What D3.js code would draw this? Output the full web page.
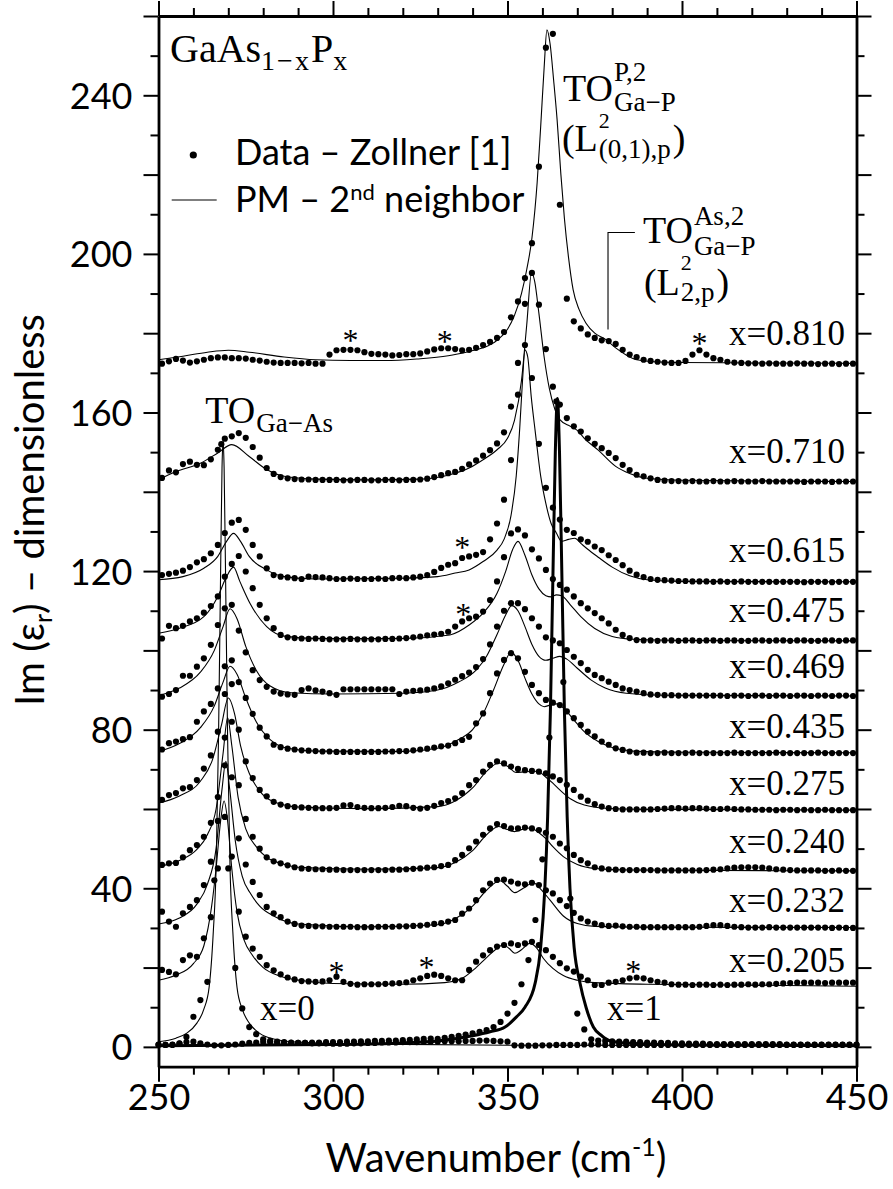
<!DOCTYPE html>
<html lang="en">
<head>
<meta charset="UTF-8">
<title>GaAsP Im(eps) spectra</title>
<style>
  body{ margin:0; background:#fff; }
  .axis path, .axis line{ stroke:#000; fill:none; }
  .axis path{ stroke-width:2.8; }
  .axis line{ stroke-width:2; }
  .axis text{ font:36px Lato, sans-serif; fill:#000; }
  .model{ fill:none; stroke:#000; stroke-width:1.1; }
  .model.thick{ stroke-width:3; }
  .dot{ fill:#000; }
  .serif{ font-family:"Liberation Serif", serif; fill:#000; }
  .title{ font:40px Lato, sans-serif; fill:#000; }
  .legend text{ font:36px Lato, sans-serif; fill:#000; }
</style>
</head>
<body>
<svg class="chart" width="893" height="1189"></svg>
<script src="https://cdn.jsdelivr.net/npm/d3@7"></script>
<script>
// wavenumber grids of the measured points (cm-1)
var oddWn = d3.range(251, 450, 2);    // alloys
var evenWn = d3.range(250, 451, 2);   // GaAs and GaP

// measured Im(eps) (already offset as plotted), one array per composition
var d810 = [172.3,172.9,173.5,173.1,172.6,172.9,173.3,173.7,173.9,173.9,
  173.7,173.7,173.6,173.3,173.1,172.8,172.6,172.5,172.5,172.5,
  172.4,172.5,172.3,172.3,174.6,175.7,175.8,175.8,175.7,175.2,
  174.8,174.7,174.6,174.4,174.5,174.7,174.7,174.9,175.4,175.9,
  176.2,176.2,176.0,175.7,175.8,176.3,177.0,177.8,178.8,180.3,
  184.0,188.0,193.9,202.7,222.0,252.0,255.5,212.4,188.7,183.0,
  181.2,179.7,178.8,178.2,178.0,177.3,175.8,174.6,174.0,173.3,
  173.0,172.8,172.6,172.5,172.5,173.0,174.6,175.7,174.6,173.7,
  173.3,172.8,172.6,172.5,172.4,172.4,172.3,172.4,172.3,172.3,
  172.3,172.4,172.3,172.3,172.2,172.3,172.3,172.2,172.3,172.3];
var d710 = [143.5,145.4,144.9,147.0,147.6,146.8,146.7,148.2,150.6,153.4,
  154.0,154.8,153.6,151.3,148.6,146.0,144.5,143.7,143.4,143.2,
  143.1,143.1,143.0,143.0,143.0,143.0,142.9,142.9,143.0,143.0,
  142.9,142.9,143.0,143.0,142.9,143.0,143.0,143.1,143.3,143.7,
  144.2,144.7,145.0,145.8,146.9,147.9,149.1,150.5,152.2,155.0,
  161.5,172.5,187.4,195.2,187.2,176.0,166.5,162.0,158.6,156.5,
  155.2,153.5,152.1,151.0,149.8,148.5,146.8,145.5,144.3,143.9,
  143.4,143.0,142.8,142.7,142.7,142.6,142.7,142.6,142.6,142.7,
  142.6,142.6,142.7,142.6,142.6,142.6,142.7,142.6,142.6,142.6,
  142.6,142.6,142.5,142.6,142.6,142.6,142.5,142.6,142.6,142.6];
var d615 = [119.0,119.3,119.6,120.1,121.0,122.2,123.0,124.5,126.6,129.6,
  132.2,132.9,130.4,126.6,123.7,120.7,119.0,118.6,118.4,118.2,
  118.0,118.6,118.5,118.4,118.2,118.0,118.0,118.1,118.0,118.0,
  118.0,118.1,118.0,118.2,118.3,118.2,118.4,118.6,119.0,119.8,
  120.8,121.6,122.0,123.3,123.7,124.1,124.8,128.0,132.0,138.0,
  148.0,164.5,177.0,168.7,152.1,141.0,136.0,133.0,130.4,129.6,
  128.0,127.4,126.2,125.3,124.0,122.8,121.5,120.1,119.1,118.5,
  118.0,117.8,117.7,117.6,117.5,117.5,117.4,117.4,117.4,117.3,
  117.4,117.3,117.3,117.4,117.3,117.3,117.3,117.3,117.3,117.3,
  117.3,117.3,117.2,117.3,117.3,117.3,117.2,117.3,117.3,117.3];
var d475 = [103.0,106.2,105.6,106.2,107.3,108.1,109.5,111.2,113.6,118.6,
  121.8,123.8,119.9,115.7,111.5,108.1,105.6,103.9,103.3,103.1,
  103.0,102.9,103.0,102.9,102.8,102.8,102.8,102.9,102.8,102.8,
  102.8,102.8,102.9,102.9,103.0,103.1,103.3,103.5,103.8,104.0,
  104.2,104.7,106.0,107.3,108.1,108.5,109.8,112.7,117.4,123.5,
  129.5,130.5,129.0,125.5,123.2,120.3,118.0,116.5,115.3,113.6,
  111.9,110.6,109.4,108.1,106.8,105.2,103.9,103.1,102.6,102.5,
  102.5,102.4,102.5,102.5,102.4,102.5,102.5,102.4,102.5,102.5,
  102.4,102.5,102.5,102.4,102.4,102.5,102.5,102.4,102.5,102.5,
  102.4,102.5,102.5,102.4,102.4,102.5,102.5,102.4,102.5,102.5];
var d469 = [88.3,89.0,90.0,93.6,93.6,95.9,98.0,101.4,106.4,110.6,
  111.5,105.0,99.5,95.0,92.5,90.8,89.6,89.1,88.9,88.8,
  90.0,90.4,89.9,89.6,89.2,88.8,90.2,90.2,90.2,90.2,
  90.2,90.2,90.2,90.2,89.0,89.6,89.8,89.9,90.1,90.4,
  90.9,91.7,92.6,93.5,94.4,95.8,97.8,101.5,106.0,110.0,
  111.9,111.9,110.4,108.1,106.0,103.3,102.5,101.8,100.1,98.4,
  96.8,95.1,93.8,93.0,92.1,91.3,90.4,90.0,89.6,89.2,
  88.9,88.8,88.7,88.7,88.6,88.6,88.6,88.6,88.6,88.6,
  88.6,88.5,88.6,88.6,88.5,88.6,88.6,88.5,88.6,88.6,
  88.5,88.6,88.6,88.5,88.6,88.6,88.5,88.6,88.6,88.5];
var d435 = [75.0,76.6,77.0,77.6,78.1,82.0,84.6,86.5,90.4,96.0,
  97.5,92.0,88.0,84.0,80.5,78.3,76.2,75.6,75.2,75.0,
  74.8,74.7,74.6,74.5,74.5,74.4,74.4,74.4,74.4,74.4,
  74.4,74.4,74.5,74.5,74.6,74.6,74.8,75.0,75.2,75.5,
  75.8,76.0,76.6,77.4,78.2,81.6,84.1,89.2,94.2,97.6,
  99.3,98.0,94.6,91.3,89.2,87.5,86.8,86.2,84.6,82.9,
  81.2,79.5,78.3,77.0,76.2,75.3,74.9,74.5,74.2,74.2,
  74.1,74.1,74.2,74.1,74.1,74.1,74.2,74.1,74.1,74.1,
  74.1,74.1,74.2,74.1,74.1,74.1,74.1,74.1,74.2,74.1,
  74.1,74.1,74.1,74.1,74.2,74.1,74.1,74.1,74.1,74.1];
var d275 = [62.3,63.5,64.0,65.2,65.5,67.3,70.2,73.5,79.5,89.0,
  91.5,80.0,72.0,67.8,64.8,63.2,61.8,61.1,60.7,60.5,
  60.4,60.3,60.2,60.2,60.2,60.3,60.9,61.0,60.5,60.3,
  60.2,60.2,60.3,60.5,60.8,60.7,60.3,60.1,60.3,60.8,
  61.5,62.0,62.7,64.0,66.0,67.3,69.4,71.1,72.0,71.5,
  70.7,70.1,69.8,69.6,69.4,69.0,68.2,67.3,66.1,64.8,
  63.1,62.1,61.2,60.6,60.2,60.0,59.9,59.9,59.9,59.9,
  59.9,60.0,60.1,60.2,60.2,60.1,60.2,60.2,60.1,60.0,
  60.0,60.1,60.0,59.9,59.9,59.8,59.8,59.8,59.7,59.8,
  59.8,59.7,59.8,59.7,59.7,59.8,59.7,59.7,59.7,59.7];
var d240 = [45.9,46.3,46.4,47.8,49.6,50.9,53.0,56.5,63.0,78.0,
  82.0,66.0,57.5,53.0,50.0,47.8,46.8,46.3,45.8,45.3,
  45.0,44.9,44.8,44.8,44.7,44.7,44.6,44.6,44.6,44.6,
  44.6,44.6,44.6,44.7,44.7,44.8,44.9,45.0,45.2,45.3,
  45.6,45.9,47.1,48.4,50.1,51.8,53.5,55.1,56.2,55.7,
  55.1,55.1,55.3,55.1,54.7,54.0,53.0,51.3,50.1,48.4,
  47.1,46.3,45.3,45.0,44.8,44.7,44.6,44.6,44.6,44.6,
  44.6,44.5,44.5,44.5,44.5,44.5,44.5,44.5,44.6,44.7,
  44.8,45.0,45.2,45.3,45.3,45.3,45.2,45.0,44.8,44.7,
  44.6,44.5,44.5,44.5,44.5,44.4,44.4,44.5,44.4,44.4];
var d232 = [34.1,31.6,30.3,33.7,35.3,37.0,40.8,46.7,57.0,71.0,
  68.0,52.6,46.0,41.6,38.3,35.3,33.7,32.7,31.6,31.0,
  30.6,30.5,30.4,30.4,30.3,30.3,30.3,30.3,30.2,30.2,
  30.2,30.3,30.3,30.3,30.4,30.4,30.5,30.6,30.8,31.0,
  31.2,31.6,32.0,33.6,34.9,37.0,39.5,41.2,42.1,42.2,
  41.7,41.2,41.0,41.4,40.8,39.5,38.7,37.0,35.5,33.8,
  32.4,31.6,31.1,30.7,30.5,30.6,30.4,30.3,30.3,30.2,
  30.2,30.2,30.2,30.2,30.2,30.2,30.2,30.3,30.5,30.7,
  30.7,30.5,30.3,30.2,30.1,30.1,30.1,30.2,30.1,30.1,
  30.1,30.1,30.1,30.1,30.1,30.1,30.0,30.1,30.0,30.0];
var d205 = [19.4,18.9,18.3,21.9,23.1,22.7,27.4,32.7,45.0,58.0,
  48.0,34.1,27.8,24.8,22.7,20.6,19.3,18.3,17.5,17.0,
  16.6,16.5,16.4,16.5,16.8,17.7,16.4,15.9,15.7,15.8,
  15.8,15.8,15.9,16.0,16.1,16.3,16.8,17.3,17.9,18.2,
  17.9,17.3,16.8,16.8,19.4,21.5,23.1,24.4,25.3,25.7,
  26.1,25.7,26.1,26.5,25.7,24.4,22.7,21.1,19.8,19.0,
  17.7,16.8,15.6,15.6,16.2,16.4,16.8,17.3,17.5,17.3,
  16.8,16.4,16.2,15.8,15.7,15.7,15.6,15.7,15.7,15.6,
  15.7,15.6,15.7,15.7,15.8,15.7,15.8,15.8,15.9,16.0,
  16.1,16.2,16.2,16.2,16.2,16.1,16.2,16.2,16.2,16.2];
var dGaAs = [0.6,0.5,0.5,0.9,2.5,7.6,11.8,16.4,42.0,152.0,
  45.0,19.9,9.7,5.0,3.2,1.9,1.5,1.3,1.2,1.1,
  1.0,1.0,0.9,0.9,0.9,0.8,0.8,0.8,0.9,0.9,
  1.0,1.0,1.1,1.1,1.1,1.2,1.2,1.2,1.3,1.3,
  1.3,1.4,1.4,1.4,1.5,1.5,1.6,1.6,1.5,1.4,
  1.3,0.4,0.3,0.3,0.3,0.4,0.4,0.5,0.5,0.5,
  0.5,0.6,0.6,0.6,0.5,0.5,0.5,0.5,0.5,0.5,
  0.5,0.5,0.5,0.5,0.5,0.5,0.5,0.5,0.5,0.5,
  0.5,0.5,0.5,0.5,0.5,0.5,0.5,0.5,0.5,0.5,
  0.5,0.5,0.5,0.5,0.5,0.5,0.5,0.5,0.5,0.5,
  0.5];
var dGaP = [0.5,0.5,0.6,0.8,1.2,1.3,0.9,0.6,0.4,0.4,
  0.5,0.6,0.8,1.0,1.1,1.2,1.2,1.1,1.0,1.0,
  1.0,1.0,1.1,1.1,1.2,1.2,1.2,1.3,1.3,1.4,
  1.4,1.5,1.5,1.6,1.6,1.7,1.8,1.9,2.0,2.1,
  2.0,2.3,2.5,2.8,3.1,3.4,3.8,4.2,5.0,6.3,
  8.4,11.1,15.8,21.9,32.0,47.3,78.0,162.8,92.0,37.4,
  8.4,4.4,1.9,1.6,1.5,1.4,1.3,1.3,1.2,1.2,
  1.1,1.1,1.0,1.0,0.9,0.9,0.8,0.8,0.8,0.7,
  0.7,0.7,0.7,0.7,0.7,0.7,0.7,0.7,0.7,0.7,
  0.6,0.6,0.6,0.6,0.6,0.6,0.6,0.6,0.6,0.6,
  0.6];

// PM 2nd-neighbour model curves, [wavenumber, Im(eps)]
var m810 = [[250,173.3],[257,174.2],[264,175.2],[270,175.7],[276,175.2],[286,174.0],[295,173.3],[305,173.1],[315,173.1],[324,173.5],[333,174.3],[339,175.4],[343,176.3],[347,178.2],[350,181.0],[352,184.5],[354,190.0],[355.5,196.0],[357,204.0],[358.5,218.0],[359.5,232.0],[360.5,247.0],[361.3,256.5],[362.2,253.0],[363.2,244.0],[364.2,234.0],[365.3,220.0],[366.3,209.0],[367.5,199.0],[368.8,191.0],[370.5,186.0],[372.5,182.5],[375,180.0],[378,178.5],[381,176.3],[384,174.5],[387,173.3],[392,172.8],[400,172.6],[420,172.5],[450,172.4]];
var m710 = [[250,143.0],[255,145.1],[262,147.2],[267,149.8],[271,151.9],[276,148.9],[281,145.6],[286,143.9],[295,143.2],[310,143.0],[325,143.2],[333.5,144.3],[339,146.0],[343,148.1],[347,150.6],[350,153.5],[352,158.0],[354,168.0],[355.5,182.0],[356.9,195.3],[357.8,193.0],[359,185.0],[360.5,174.0],[362,166.0],[363.5,161.0],[365,158.2],[368,156.5],[370,155.5],[372,153.5],[376,150.5],[381,146.4],[385,144.6],[390,143.4],[400,142.9],[450,142.6]];
var m615 = [[250,117.8],[257,118.6],[263,120.7],[267,123.7],[269.5,127.5],[271.5,129.5],[273.5,127.5],[276,123.7],[281,120.3],[286,118.6],[295,118.0],[320,118.2],[330,118.6],[335,119.5],[339,120.3],[343,122.4],[347,125.3],[349,128.0],[351,134.0],[352.5,144.0],[353.5,156.0],[354.3,168.0],[355,175.8],[355.8,174.0],[356.8,164.0],[358,154.8],[359.5,144.0],[361,137.0],[362.5,132.0],[364,129.6],[365.5,127.5],[367.5,128.0],[369.3,128.3],[371,127.0],[373,125.5],[376,123.5],[380,121.0],[385,118.8],[390,117.8],[400,117.4],[450,117.3]];
var m475 = [[250,104.3],[256,105.6],[263,108.5],[267,113.6],[269.5,118.6],[271.5,121.0],[273.3,117.4],[276.2,111.9],[281,106.0],[286,103.6],[295,103.0],[320,103.0],[333.5,103.9],[339,106.4],[343,109.4],[347,114.4],[349.5,120.0],[351.5,125.5],[353,127.5],[355,124.0],[357,119.0],[359,115.5],[361,113.8],[362.5,113.5],[364,114.0],[365.5,113.8],[368,111.5],[371,108.5],[375,105.5],[380,103.5],[386,102.8],[400,102.5],[450,102.4]];
var m469 = [[250,88.6],[256,90.5],[262,94.5],[266,100.0],[268.5,106.0],[270.5,110.5],[272.5,108.0],[275,101.0],[278,95.0],[282,91.0],[288,89.3],[300,89.0],[320,89.2],[330,90.0],[336,92.0],[341,95.0],[344,98.5],[347,104.0],[349.5,109.0],[351.2,111.3],[353,110.0],[355,106.0],[357,101.5],[359,98.5],[361,97.5],[363,98.0],[365,98.5],[367,97.8],[370,95.5],[374,92.5],[378,90.5],[384,89.2],[395,88.7],[450,88.5]];
var m435 = [[250,74.5],[256,76.5],[262,80.5],[266,86.0],[268.5,92.0],[270.5,96.0],[272.5,94.0],[275,88.0],[278,82.0],[282,77.5],[287,75.3],[295,74.6],[320,74.5],[330,75.3],[336,77.5],[340,80.0],[343,84.0],[346,90.0],[349,96.5],[351,99.5],[353,97.5],[355,93.0],[357,89.0],[359,86.5],[360.5,85.8],[362.5,86.3],[364,86.5],[366,85.5],[369,82.5],[372,79.5],[376,77.0],[380,75.5],[386,74.6],[400,74.3],[450,74.2]];
var m275 = [[250,61.5],[256,63.3],[262,67.0],[265.5,72.5],[268,81.0],[270,88.0],[271.8,84.0],[273.5,76.0],[276,69.0],[279,64.5],[283,61.8],[290,60.5],[310,60.1],[330,60.6],[335,62.0],[340,65.3],[344,69.5],[347.5,71.6],[350,70.8],[352.5,69.2],[355,69.4],[358.5,69.5],[361,68.0],[363,66.5],[365,64.8],[368,62.6],[372,61.0],[378,60.2],[390,59.9],[450,59.7]];
var m240 = [[250,45.5],[256,47.0],[261,49.8],[264,53.5],[266.5,60.0],[268.5,74.0],[269.8,83.0],[271,76.0],[272.8,63.0],[275,55.0],[278,50.5],[281,47.8],[285,46.3],[290,45.3],[310,44.8],[330,45.2],[335,46.5],[340,49.5],[344,53.5],[347.5,55.6],[350,54.8],[352,54.3],[354,54.8],[356.5,55.2],[359,54.0],[361,52.5],[363,50.5],[366,48.0],[370,46.0],[375,45.0],[385,44.6],[450,44.4]];
var m232 = [[250,31.0],[256,32.5],[261,36.0],[264,41.0],[266.5,50.0],[268.2,65.0],[269.3,72.0],[270.4,65.0],[272,52.0],[274,43.0],[276.5,38.5],[279,35.5],[283,33.0],[290,31.0],[310,30.3],[330,30.8],[335,32.3],[340,35.5],[344,39.5],[347.8,41.9],[350,40.5],[352.1,38.9],[354.5,40.0],[357.4,41.4],[359.5,39.8],[362.2,37.0],[366,33.0],[370,31.1],[375,30.4],[390,30.2],[450,30.1]];
var m205 = [[250,16.8],[255,18.1],[260,21.0],[263,25.5],[265.2,35.3],[266.5,45.0],[267.8,57.0],[268.8,62.0],[269.8,57.0],[271,45.0],[272.5,34.0],[274.5,27.0],[277,23.0],[280,20.0],[285,17.8],[292,16.6],[300,16.0],[320,15.8],[332,16.2],[337,17.3],[341,20.0],[344,22.5],[346.5,24.5],[348.8,25.7],[350.5,24.8],[352.1,23.6],[354,24.5],[356.4,26.1],[358.5,24.8],[360.3,22.3],[363,19.8],[366,18.0],[370,16.8],[375,16.2],[390,15.8],[450,15.3]];
var mGaAs = [[250,1.3],[255,2.2],[258,3.4],[261,6.0],[263,9.5],[264.5,15.0],[265.7,29.0],[266.5,45.0],[267.2,78.0],[267.8,120.0],[268.2,146.0],[268.5,153.0],[268.8,146.0],[269.2,120.0],[269.8,78.0],[270.5,45.0],[271.3,29.0],[272.5,15.0],[274,9.5],[276,6.0],[279,3.4],[283,2.0],[290,1.2],[310,0.7],[360,0.4],[450,0.3]];
var mGaP = [[250,0.3],[300,0.6],[320,1.0],[330,1.5],[340,2.8],[345,3.8],[349.3,5.0],[352.5,7.5],[355,10.0],[357.9,16.0],[359.5,25.0],[360.7,40.0],[361.5,58.0],[362.3,85.0],[363,118.0],[363.7,150.0],[364.3,163.5],[364.9,150.0],[365.6,118.0],[366.3,85.0],[367.1,58.0],[367.9,40.0],[369.1,25.0],[370.8,16.0],[372.5,10.0],[374.6,5.0],[377,2.8],[379.4,1.5],[385,0.9],[400,0.5],[450,0.3]];

var compositions = ["x=0.810","x=0.710","x=0.615","x=0.475","x=0.469","x=0.435","x=0.275","x=0.240","x=0.232","x=0.205"];
var alloyDots = [d810, d710, d615, d475, d469, d435, d275, d240, d232, d205];
var alloyModels = [m810, m710, m615, m475, m469, m435, m275, m240, m232, m205];

// annotation anchors in data units
var labelY = [177.1, 147.3, 122.3, 107.2, 93.1, 77.9, 63.6, 48.9, 34.0, 18.9];
var stars = [[305,179.4],[332,179.1],[405,178.5],[337,127.0],[337.3,110.2],[301,19.8],[326.8,21.2],[386,20.2]];

var yTicks = d3.range(0, 261, 10);
var xTicks = d3.range(250, 451, 10);

var svg = d3.select("svg"),
    margin = {top: 16, left: 158.5},
    width = 698,
    height = 1050.7;

svg.append("rect").attr("width", 893).attr("height", 1189).attr("fill", "#fff");

var g = svg.append("g").attr("transform", "translate(" + margin.left + "," + margin.top + ")");

var x = d3.scaleLinear().domain([250, 450]).range([0, width]);
var y = d3.scaleLinear().domain([-5, 260]).range([height, 0]);

var line = d3.line()
    .x(function(d){ return x(d[0]); })
    .y(function(d){ return y(d[1]); })
    .curve(d3.curveMonotoneX);

// model curves
alloyModels.concat([mGaAs]).forEach(function(m){
    g.append("path").attr("class", "model").attr("d", line(m));
});
g.append("path").attr("class", "model thick").attr("d", line(mGaP));

// data points
function drawDots(wn, vals){
    g.append("g").selectAll("circle")
        .data(vals)
        .enter().append("circle")
        .attr("class", "dot")
        .attr("cx", function(d, i){ return x(wn[i]); })
        .attr("cy", function(d){ return y(d); })
        .attr("r", 3.1);
}
alloyDots.forEach(function(v){ drawDots(oddWn, v); });
drawDots(evenWn, dGaAs);
drawDots(evenWn, dGaP);

// axes
var gx = g.append("g").attr("class", "axis").attr("transform", "translate(0," + height + ")")
    .call(d3.axisBottom(x).tickValues(xTicks).tickSizeOuter(0)
        .tickFormat(function(d){ return d % 50 === 0 ? d : ""; }));
gx.selectAll(".tick line").attr("y2", function(d){ return d % 50 === 0 ? 15 : 8; });
gx.selectAll(".tick text").attr("y", 43).attr("dy", null);

var gxt = g.append("g").attr("class", "axis")
    .call(d3.axisTop(x).tickValues(xTicks).tickSizeOuter(0).tickFormat(""));
gxt.selectAll(".tick line").attr("y2", function(d){ return d % 50 === 0 ? -15 : -8; });

var gy = g.append("g").attr("class", "axis")
    .call(d3.axisLeft(y).tickValues(yTicks).tickSizeOuter(0)
        .tickFormat(function(d){ return d % 40 === 0 ? d : ""; }));
gy.selectAll(".tick line").attr("x2", function(d){ return d % 20 === 0 ? -15 : -8; });
gy.selectAll(".tick text").attr("x", -26).attr("dy", "0.36em");

var gyr = g.append("g").attr("class", "axis").attr("transform", "translate(" + width + ",0)")
    .call(d3.axisRight(y).tickValues(yTicks).tickSizeOuter(0).tickFormat(""));
gyr.selectAll(".tick line").attr("x2", function(d){ return d % 20 === 0 ? 15 : 8; });

// axis titles
var xt = svg.append("text").attr("class", "title").attr("x", 496).attr("y", 1172)
    .attr("text-anchor", "middle");
xt.append("tspan").text("Wavenumber (cm");
xt.append("tspan").attr("dy", -16).style("font-size", "25px").text("-1");
xt.append("tspan").attr("dy", 16).text(")");

var yt = svg.append("text").attr("class", "title").attr("transform", "rotate(-90)")
    .attr("x", -510).attr("y", 44).attr("text-anchor", "middle");
yt.append("tspan").text("Im (ε");
yt.append("tspan").attr("dy", 8).style("font-size", "25px").text("r");
yt.append("tspan").attr("dy", -8).text(") – dimensionless");

// composition labels
compositions.forEach(function(c, i){
    g.append("text").attr("class", "serif").style("font-size", "35px")
        .attr("x", x(446.7)).attr("y", y(labelY[i]))
        .attr("text-anchor", "end").text(c);
});
g.append("text").attr("class", "serif").style("font-size", "35px")
    .attr("x", x(279.1)).attr("y", y(6.7)).text("x=0");
g.append("text").attr("class", "serif").style("font-size", "35px")
    .attr("x", x(378.5)).attr("y", y(6.7)).text("x=1");

// asterisks marking artefacts
g.selectAll(".star").data(stars).enter().append("text")
    .attr("class", "serif star").style("font-size", "32px")
    .attr("text-anchor", "middle")
    .attr("x", function(d){ return x(d[0]); })
    .attr("y", function(d){ return y(d[1]) + 15; })
    .text("*");

// mode labels with stacked super/subscripts
function modeLabel(wn, val, base, sup, sub, supDy, subDy, supSize, close){
    var px = x(wn), py = y(val);
    var t = g.append("text").attr("class", "serif").style("font-size", "38px")
        .attr("x", px).attr("y", py).text(base);
    var w = t.node().getComputedTextLength();
    var ws = 0;
    if (sup){
        var s = g.append("text").attr("class", "serif").style("font-size", supSize + "px")
            .attr("x", px + w + 1).attr("y", py + supDy).text(sup);
        ws = s.node().getComputedTextLength();
    }
    if (sub){
        var b = g.append("text").attr("class", "serif").style("font-size", "27px")
            .attr("x", px + w + 1).attr("y", py + subDy).text(sub);
        ws = Math.max(ws, b.node().getComputedTextLength());
    }
    if (close){
        g.append("text").attr("class", "serif").style("font-size", "38px")
            .attr("x", px + w + ws + 3).attr("y", py).text(close);
    }
}
modeLabel(263.4, 157.3, "TO", null, "Ga−As", 0, 9, 27, null);
modeLabel(365.9, 238.5, "TO", "P,2", "Ga−P", -20, 10, 27, null);
modeLabel(365.6, 225.9, "(L", "2", "(0,1),p", -23, 7, 22, ")");
modeLabel(388.8, 202.8, "TO", "As,2", "Ga−P", -18, 12, 27, null);
modeLabel(389.1, 189.7, "(L", "2", "2,p", -25, 6, 22, ")");

// leader line to the As,2 shoulder
g.append("path").attr("fill", "none").attr("stroke", "#000").attr("stroke-width", 1.1)
    .attr("d", line.curve(d3.curveLinear)([[386.5,205.4],[378.8,205.4],[378.8,180.9]]));

// sample title
var st = g.append("text").attr("class", "serif").style("font-size", "40px")
    .attr("x", 11.5).attr("y", 46);
st.append("tspan").text("GaAs");
st.append("tspan").attr("dy", 8).style("font-size", "28px").style("letter-spacing", "2px").text("1−x");
st.append("tspan").attr("dy", -8).text("P");
st.append("tspan").attr("dy", 8).style("font-size", "28px").text("x");

// legend
var lg = g.append("g").attr("class", "legend");
lg.append("circle").attr("cx", 34.8).attr("cy", 139).attr("r", 3.6).attr("fill", "#000");
lg.append("text").attr("x", 76.5).attr("y", 149).text("Data – Zollner [1]");
lg.append("line").attr("x1", 13.2).attr("x2", 58.2).attr("y1", 184).attr("y2", 184)
    .attr("stroke", "#000").attr("stroke-width", 1.1);
var lt = lg.append("text").attr("x", 76.5).attr("y", 195.7);
lt.append("tspan").text("PM – 2");
lt.append("tspan").attr("dy", -12).style("font-size", "22px").text("nd");
lt.append("tspan").attr("dy", 12).text(" neighbor");
</script>
</body>
</html>
